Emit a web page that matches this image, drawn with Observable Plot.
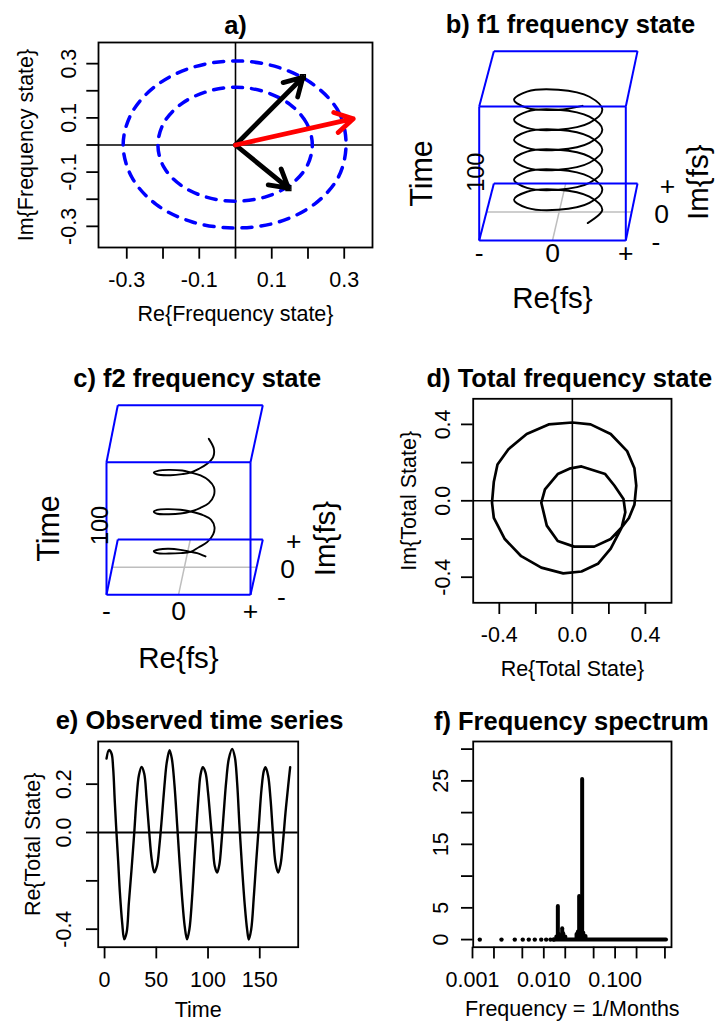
<!DOCTYPE html>
<html><head><meta charset="utf-8">
<script src="https://cdn.jsdelivr.net/npm/d3@7"></script>
<script src="https://cdn.jsdelivr.net/npm/@observablehq/plot@0.6"></script>
<style>
body{margin:0;background:#fff;}
#wrap{position:relative;width:718px;height:1021px;overflow:hidden;background:#fff;}
#wrap svg{position:absolute;left:0;top:0;}
</style></head><body><div id="wrap"></div>
<script>
// ---------- Panel a: frequency states in the complex plane ----------
const aOuterRe = [0.305, 0.286, 0.219, 0.119, 0, -0.119, -0.219, -0.286, -0.31, -0.286, -0.219, -0.119, 0, 0.119, 0.219, 0.284];
const aOuterIm = [0, 0.119, 0.219, 0.286, 0.31, 0.286, 0.219, 0.119, 0, -0.119, -0.219, -0.284, -0.306, -0.284, -0.217, -0.118];
const aInnerRe = [0.212, 0.196, 0.15, 0.081, 0, -0.081, -0.151, -0.198, -0.214, -0.198, -0.151, -0.081, 0, 0.081, 0.15, 0.196];
const aInnerIm = [0, 0.081, 0.15, 0.196, 0.213, 0.196, 0.15, 0.081, 0, -0.081, -0.148, -0.192, -0.207, -0.192, -0.148, -0.081];
const aArrowRe = [0.186, 0.146];
const aArrowIm = [0.25, -0.159];
const aSumRe = [0.325];
const aSumIm = [0.097];
const aTicks = [-0.3, -0.2, -0.1, 0, 0.1, 0.2, 0.3];
const aLabelVals = [-0.3, -0.1, 0.1, 0.3];
const aLabelText = ["-0.3", "-0.1", "0.1", "0.3"];

// ---------- Panel b: f1 helix (projected Re / height) ----------
const bU = [0.48,
  0.680, 0.504, 0.078, -0.348, -0.525, -0.348, 0.078, 0.504,
  0.680, 0.504, 0.078, -0.348, -0.525, -0.348, 0.078, 0.504,
  0.680, 0.504, 0.078, -0.348, -0.525, -0.348, 0.078, 0.504,
  0.680, 0.504, 0.078, -0.348, -0.525, -0.348, 0.078, 0.504,
  0.680, 0.504, 0.078, -0.348, -0.525, -0.348, 0.078, 0.504,
  0.680, 0.504, 0.078, -0.348, -0.525, -0.348, 0.078,
  0.41];
const bV = [0.13,
  0.229, 0.327, 0.379, 0.364, 0.304, 0.244, 0.229, 0.281,
  0.379, 0.476, 0.528, 0.514, 0.453, 0.393, 0.379, 0.430,
  0.528, 0.626, 0.677, 0.663, 0.603, 0.542, 0.528, 0.580,
  0.677, 0.775, 0.827, 0.812, 0.752, 0.691, 0.677, 0.729,
  0.827, 0.924, 0.976, 0.962, 0.901, 0.841, 0.827, 0.878,
  0.976, 1.073, 1.125, 1.111, 1.050, 0.990, 0.976,
  1.005];
const bFrontU = [-1, 1], bFrontV = [0, 1], bBackU = [-0.80, 1.16], bBackV = [0.425, 1.413];

// ---------- Panel c: f2 curve ----------
const cU = [0.375, 0.259, 0.167, 0.028, -0.134, -0.273, -0.343, -0.296, -0.134, 0.028,
  0.167, 0.282, 0.398, 0.481, 0.5, 0.454, 0.352, 0.167, 0.028, -0.134,
  -0.296, -0.343, -0.296, -0.134, 0.028, 0.167, 0.306, 0.421, 0.491, 0.491,
  0.421, 0.306, 0.167, 0.051, -0.134, -0.273, -0.343, -0.296, -0.111, 0.051,
  0.167, 0.282, 0.398, 0.481, 0.491, 0.421];
const cV = [0.289, 0.314, 0.324, 0.339, 0.347, 0.342, 0.329, 0.314, 0.311, 0.314,
  0.324, 0.359, 0.397, 0.455, 0.510, 0.565, 0.598, 0.628, 0.641, 0.646,
  0.641, 0.626, 0.611, 0.608, 0.613, 0.628, 0.656, 0.691, 0.749, 0.812,
  0.862, 0.900, 0.922, 0.937, 0.942, 0.937, 0.922, 0.907, 0.902, 0.910,
  0.922, 0.950, 0.988, 1.038, 1.101, 1.176];
const cFrontU = [-1, 1], cFrontV = [0, 1], cBackU = [-0.843, 1.171], cBackV = [0.417, 1.43];
const reTicks = [-1, 0, 1], reTickText = ["-", "0", "+"];
const imTicks = [-1, 0, 1], imTickText = ["-", "0", "+"];

// ---------- Panel d: total state ----------
const dRe = [0.27, 0.31, 0.34, 0.35, 0.34, 0.30, 0.21, 0.10, 0.00, -0.13, -0.25, -0.35, -0.41, -0.43, -0.44, -0.43, -0.37, -0.28, -0.17, -0.05, 0.05, 0.14, 0.21, 0.27,
  0.29, 0.28, 0.23, 0.18, 0.05, -0.01, -0.08, -0.15, -0.17, -0.14, -0.08, 0.01, 0.12, 0.21, 0.27];
const dIm = [-0.14, -0.09, -0.02, 0.08, 0.17, 0.26, 0.35, 0.40, 0.41, 0.40, 0.35, 0.27, 0.19, 0.10, -0.01, -0.09, -0.20, -0.29, -0.35, -0.38, -0.37, -0.33, -0.25, -0.14,
  -0.06, 0.01, 0.08, 0.14, 0.18, 0.17, 0.14, 0.06, -0.01, -0.13, -0.21, -0.24, -0.24, -0.20, -0.14];
const dTicks = [-0.4, -0.2, 0, 0.2, 0.4];
const dLabelVals = [-0.4, 0, 0.4];
const dLabelText = ["-0.4", "0.0", "0.4"];

// ---------- Panel e: observed time series ----------
const eTime = [1.9, 4.2, 6.7, 8.3, 9.9, 11.5, 13.2, 14.8, 17, 19, 21.3, 23.5, 26.1, 28.7, 30.9, 33.2, 35.8, 38.3, 40.6, 42.9,
  45.5, 48.1, 50.7, 53, 55.3, 57.9, 60.2, 62.8, 65, 67.6, 70.2, 72.5, 74.8, 77.4, 79.7, 82, 84.5, 87, 89.5, 91,
  92.6, 94.9, 97.5, 100, 102.3, 104.6, 106.5, 108.8, 111, 113, 115.2, 117.5, 120.1, 123.3, 125.9, 128.1, 130.4, 133, 135.6, 137.8,
  139.4, 141.7, 144.3, 146.5, 149.1, 151.7, 154, 155.6, 158.1, 160.4, 162.7, 165.2, 167.8, 170.1, 172.4, 174.9, 177.5, 179.4];
const eValue = [0.306, 0.341, 0.327, 0.265, 0.126, 0, -0.123, -0.248, -0.373, -0.442, -0.414, -0.29, -0.151, 0, 0.14, 0.237, 0.271, 0.244, 0.14, 0.015,
  -0.109, -0.165, -0.137, -0.054, 0.057, 0.195, 0.292, 0.341, 0.306, 0.195, 0.029, -0.123, -0.262, -0.386, -0.442, -0.40, -0.275, -0.10, 0.07, 0.16,
  0.235, 0.27, 0.249, 0.166, 0.055, -0.055, -0.139, -0.166, -0.132, -0.042, 0.083, 0.208, 0.305, 0.346, 0.312, 0.208, 0.028, -0.152, -0.305, -0.402,
  -0.443, -0.402, -0.263, -0.125, 0.028, 0.18, 0.256, 0.27, 0.235, 0.139, 0, -0.125, -0.166, -0.132, -0.042, 0.083, 0.194, 0.27];
const eXTicks = [0, 50, 100, 150];
const eXText = ["0", "50", "100", "150"];
const eYTicks = [-0.4, -0.2, 0, 0.2];
const eYLabelVals = [-0.4, 0, 0.2];
const eYLabelText = ["-0.4", "0.0", "0.2"];

// ---------- Panel f: frequency spectrum ----------
const fDotFreq = [0.001265, 0.00255, 0.00392, 0.00507, 0.00616, 0.00748, 0.0092, 0.0108, 0.0124, 0.0138];
const fBandFrom = 0.0138, fBandTo = 0.526;
const fPeakFreq = [0.0150, 0.01574, 0.0163, 0.0175, 0.01811, 0.0187, 0.0200, 0.0288, 0.0301, 0.03133, 0.03451, 0.0358, 0.03846];
const fPeakPower = [0.4, 5.2, 0.8, 0.6, 1.7, 0.9, 0.4, 0.8, 1.2, 6.8, 25.2, 1.0, 0.5];
const fXTicks = [0.001, 0.002, 0.005, 0.01, 0.02, 0.05, 0.1, 0.2, 0.5];
const fXLabelVals = [0.001, 0.01, 0.1];
const fXLabelText = ["0.001", "0.010", "0.100"];
const fYTicks = [0, 5, 10, 15, 20, 25, 30];
const fYLabelVals = [0, 5, 15, 25];
const fYLabelText = ["0", "5", "15", "25"];

// ---------- helpers ----------
const W = 718, H = 1021;
const FONT = "'Liberation Sans', Arial, Helvetica, sans-serif";
const BLUE = "#0000FF", RED = "#FF0000", GREY = "#BEBEBE";
const FS = 21.5, TFS = 25.5;

function panel(opts) {
  const svg = Plot.plot({width: W, height: H, ...opts,
    style: {background: "transparent", fontFamily: FONT, overflow: "visible"}});
  document.getElementById("wrap").appendChild(svg);
}
const T = (txt, o) => Plot.text([txt], {text: d => d, fontSize: FS, lineAnchor: "middle", textAnchor: "middle", fill: "black", ...o});
const title = (txt, dx, dy) => T(txt, {frameAnchor: "top", dx, dy, fontSize: TFS, fontWeight: "bold"});

function rAxes({xTicks, xVals, xText, yTicks, yVals, yText, xDy, yDx}) {
  return [
    Plot.axisX(xTicks, {anchor: "bottom", tickSize: 11.7, strokeWidth: 1.8, fill: "none", label: null}),
    Plot.axisY(yTicks, {anchor: "left", tickSize: 11.7, strokeWidth: 1.8, fill: "none", label: null}),
    Plot.text(xVals, {x: d => d, frameAnchor: "bottom", dy: xDy, text: (d, i) => xText[i], fontSize: FS, lineAnchor: "middle", textAnchor: "middle"}),
    Plot.text(yVals, {y: d => d, frameAnchor: "left", dx: yDx, text: (d, i) => yText[i], rotate: -90, fontSize: FS, lineAnchor: "middle", textAnchor: "middle"})
  ];
}

function boxEdges(FU, FV, BU, BV) {
  const f = [[FU[0], FV[0]], [FU[1], FV[0]], [FU[1], FV[1]], [FU[0], FV[1]]];
  const b = [[BU[0], BV[0]], [BU[1], BV[0]], [BU[1], BV[1]], [BU[0], BV[1]]];
  const e = [];
  for (let i = 0; i < 4; i++) { e.push([f[i], f[(i + 1) % 4]]); e.push([f[i], b[i]]); }
  e.push([b[0], b[1]]); e.push([b[3], b[2]]);
  return e;
}

function box3d({U, V, FU, FV, BU, BV, curve, t, timeDx, hundredDx, hundredDy, reDy, imDx, imDy, tickDy, sideDx, sideDy}) {
  const edges = boxEdges(FU, FV, BU, BV);
  const floorMid = [[(FU[0] + BU[0]) / 2, BV[0] / 2], [(FU[1] + BU[1]) / 2, BV[0] / 2]];
  const reZero = [[(FU[0] + FU[1]) / 2, FV[0]], [(BU[0] + BU[1]) / 2, BV[0]]];
  const sideX = d => FU[1] + (d + 1) / 2 * (BU[1] - FU[1]);
  const sideY = d => FV[0] + (d + 1) / 2 * (BV[0] - FV[0]);
  return [
    Plot.link([floorMid, reZero], {x1: d => d[0][0], y1: d => d[0][1], x2: d => d[1][0], y2: d => d[1][1], stroke: GREY, strokeWidth: 1.5}),
    Plot.line(U, {x: d => d, y: (d, i) => V[i], stroke: "black", strokeWidth: 1.9, curve}),
    Plot.link(edges, {x1: d => d[0][0], y1: d => d[0][1], x2: d => d[1][0], y2: d => d[1][1], stroke: BLUE, strokeWidth: 2}),
    Plot.text(reTicks, {x: d => d, frameAnchor: "bottom", dy: tickDy, text: (d, i) => reTickText[i], fontSize: 26.5, lineAnchor: "middle"}),
    Plot.text(imTicks, {x: sideX, y: sideY, dx: sideDx, dy: sideDy, text: (d, i) => imTickText[i], fontSize: 26.5, lineAnchor: "middle"}),
    title(t.title, t.dx, t.dy),
    T("Time", {frameAnchor: "left", dx: timeDx, rotate: -90, fontSize: 30.5}),
    T("100", {frameAnchor: "left", dx: hundredDx, dy: hundredDy, rotate: -90, fontSize: 23.5}),
    T("Re{fs}", {frameAnchor: "bottom", dy: reDy, fontSize: 29.5}),
    T("Im{fs}", {frameAnchor: "right", dx: imDx, dy: imDy, rotate: -90, fontSize: 29.5})
  ];
}

// ---------- a ----------
panel({
  marginLeft: 98, marginRight: 346, marginTop: 42, marginBottom: 774,
  x: {domain: [-0.378, 0.378]}, y: {domain: [-0.378, 0.378]},
  marks: [
    Plot.ruleX([0], {strokeWidth: 1.6}),
    Plot.ruleY([0], {strokeWidth: 1.6}),
    Plot.line(aOuterRe, {x: d => d, y: (d, i) => aOuterIm[i], curve: "catmull-rom-closed", stroke: BLUE, strokeWidth: 3.5, strokeDasharray: "10,9", strokeLinecap: "round"}),
    Plot.line(aInnerRe, {x: d => d, y: (d, i) => aInnerIm[i], curve: "catmull-rom-closed", stroke: BLUE, strokeWidth: 3.5, strokeDasharray: "10,9", strokeLinecap: "round"}),
    Plot.arrow(aArrowRe, {x1: 0, y1: 0, x2: d => d, y2: (d, i) => aArrowIm[i], stroke: "black", strokeWidth: 4.8, headLength: 6.4}),
    Plot.dot(aArrowRe, {x: d => d, y: (d, i) => aArrowIm[i], symbol: "square", r: 2.8, stroke: "black", fill: "none", strokeWidth: 1.3}),
    Plot.arrow(aSumRe, {x1: 0, y1: 0, x2: d => d, y2: (d, i) => aSumIm[i], stroke: RED, strokeWidth: 4.8, headLength: 6.4}),
    Plot.frame({stroke: "black", strokeWidth: 1.8}),
    ...rAxes({xTicks: aTicks, xVals: aLabelVals, xText: aLabelText, yTicks: aTicks, yVals: aLabelVals, yText: aLabelText, xDy: 33, yDx: -29.7}),
    title("a)", 0, -17),
    T("Re{Frequency state}", {frameAnchor: "bottom", dy: 66.3}),
    T("Im{Frequency state}", {frameAnchor: "left", dx: -72.3, rotate: -90})
  ]
});

// ---------- b ----------
panel({
  marginLeft: 478.7, marginRight: 92.7, marginTop: 106, marginBottom: 781,
  x: {domain: [-1, 1], axis: null}, y: {domain: [0, 1], axis: null},
  marks: box3d({U: bU, V: bV, FU: bFrontU, FV: bFrontV, BU: bBackU, BV: bBackV, curve: "catmull-rom",
    t: {title: "b) f1 frequency state", dx: 18, dy: -82},
    timeDx: -57, hundredDx: -3, hundredDy: -1.3, reDy: 58, imDx: 72.7, imDy: 8.7, tickDy: 13.3, sideDx: 30, sideDy: 2.5})
});

// ---------- c ----------
panel({
  marginLeft: 106, marginRight: 468, marginTop: 461.7, marginBottom: 426.7,
  x: {domain: [-1, 1], axis: null}, y: {domain: [0, 1], axis: null},
  marks: box3d({U: cU, V: cV, FU: cFrontU, FV: cFrontV, BU: cBackU, BV: cBackV, curve: "catmull-rom",
    t: {title: "c) f2 frequency state", dx: 18.7, dy: -83.4},
    timeDx: -57.7, hundredDx: -6, hundredDy: -3, reDy: 63.7, imDx: 75, imDy: 10, tickDy: 16.4, sideDx: 31, sideDy: 2.5})
});

// ---------- d ----------
panel({
  marginLeft: 472.7, marginRight: 47, marginTop: 398.3, marginBottom: 418.7,
  x: {domain: [-0.543, 0.543]}, y: {domain: [-0.534, 0.534]},
  marks: [
    Plot.ruleX([0], {strokeWidth: 1.6}),
    Plot.ruleY([0], {strokeWidth: 1.6}),
    Plot.line(dRe, {x: d => d, y: (d, i) => dIm[i], stroke: "black", strokeWidth: 2.7}),
    Plot.frame({stroke: "black", strokeWidth: 1.8}),
    ...rAxes({xTicks: dTicks, xVals: dLabelVals, xText: dLabelText, yTicks: dTicks, yVals: dLabelVals, yText: dLabelText, xDy: 32.7, yDx: -30.4}),
    title("d) Total frequency state", -3, -20.3),
    T("Re{Total State}", {frameAnchor: "bottom", dy: 66.7}),
    T("Im{Total State}", {frameAnchor: "left", dx: -64, rotate: -90})
  ]
});

// ---------- e ----------
const eData = eTime.map((t, i) => ({t, v: eValue[i]}));
panel({
  marginLeft: 97.7, marginRight: 420.3, marginTop: 741, marginBottom: 74.3,
  x: {domain: [-6.16, 187.16]}, y: {domain: [-0.4745, 0.3765]},
  marks: [
    Plot.ruleY([0], {strokeWidth: 1.8}),
    Plot.line(eData, {x: "t", y: "v", stroke: "black", strokeWidth: 2.4, curve: "catmull-rom"}),
    Plot.frame({stroke: "black", strokeWidth: 1.8}),
    ...rAxes({xTicks: eXTicks, xVals: eXTicks, xText: eXText, yTicks: eYTicks, yVals: eYLabelVals, yText: eYLabelText, xDy: 33.3, yDx: -34.4}),
    title("e) Observed time series", 1.3, -21),
    T("Time", {frameAnchor: "bottom", dy: 63.3}),
    T("Re{Total State}", {frameAnchor: "left", dx: -65.4, rotate: -90})
  ]
});

// ---------- f ----------
panel({
  marginLeft: 472.7, marginRight: 47, marginTop: 741, marginBottom: 74.3,
  x: {type: "log", domain: [0.001023, 0.618]}, y: {domain: [-1.2, 31.2]},
  marks: [
    Plot.ruleY([0], {x1: fBandFrom, x2: fBandTo, stroke: "black", strokeWidth: 4, strokeLinecap: "round"}),
    Plot.ruleX(fPeakFreq, {x: d => d, y1: 0, y2: (d, i) => fPeakPower[i], stroke: "black", strokeWidth: 4, strokeLinecap: "round"}),
    Plot.dot(fDotFreq, {x: d => d, y: 0, r: 2.2, fill: "black"}),
    Plot.frame({stroke: "black", strokeWidth: 1.8}),
    ...rAxes({xTicks: fXTicks, xVals: fXLabelVals, xText: fXLabelText, yTicks: fYTicks, yVals: fYLabelVals, yText: fYLabelText, xDy: 33.3, yDx: -32}),
    title("f) Frequency spectrum", -1, -20),
    T("Frequency = 1/Months", {frameAnchor: "bottom", dy: 61.6})
  ]
});
</script></body></html>
